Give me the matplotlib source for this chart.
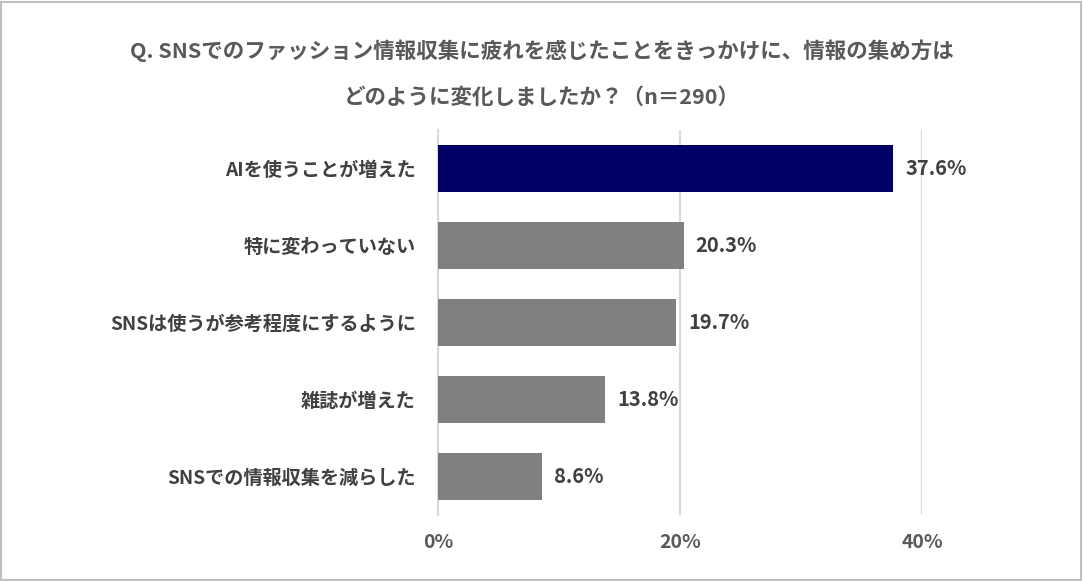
import matplotlib.pyplot as plt
import numpy as np

plt.rcParams['font.family'] = ['Noto Sans CJK JP', 'DejaVu Sans']

# データ
categories = ['AIを使うことが増えた', '特に変わっていない', 'SNSは使うが参考程度にするように',
              '雑誌が増えた', 'SNSでの情報収集を減らした']
values = [37.6, 20.3, 19.7, 13.8, 8.6]
bar_colors = ['#000066', '#808080', '#808080', '#808080', '#808080']
xticks = [0, 20, 40]

title_line1 = 'Q. SNSでのファッション情報収集に疲れを感じたことをきっかけに、情報の集め方は'
title_line2 = 'どのように変化しましたか？（n＝290）'

fig = plt.figure(figsize=(10.83, 5.81), dpi=100)
# 左 438px, 右 922px, 上 130px, 下 515px
ax = fig.add_axes([438 / 1083, 1 - 515 / 581, (922 - 438) / 1083, (515 - 130) / 581])

y = np.arange(len(categories))
ax.barh(y, values, height=0.6, color=bar_colors, zorder=3)

for yi, v in zip(y, values):
    ax.text(v + 1.0, yi, f'{v:.1f}%', va='center', ha='left',
            fontsize=14.5, fontweight='bold', color='#404040', zorder=4)

ax.set_xlim(0, 40)
ax.set_ylim(len(categories) - 0.5, -0.5)
ax.set_yticks(y)
ax.set_yticklabels(categories, fontsize=13.8, fontweight='bold', color='#404040')
ax.set_xticks(xticks)
ax.set_xticklabels([f'{t}%' for t in xticks], fontsize=14, fontweight='bold', color='#595959')
ax.tick_params(axis='y', length=0, pad=16)
ax.tick_params(axis='x', length=0, pad=13)

ax.grid(axis='x', color='#d9d9d9', linewidth=1.5, zorder=0)
for s in ['top', 'right', 'bottom']:
    ax.spines[s].set_visible(False)
ax.spines['left'].set_color('#d9d9d9')
ax.spines['left'].set_linewidth(1.5)

# タイトル（2行）
fig.text(0.5, 1 - 51 / 581, title_line1, ha='center', va='center', fontsize=15.5,
         fontweight='bold', color='#595959')
fig.text(0.5, 1 - 97 / 581, title_line2, ha='center', va='center', fontsize=15.5,
         fontweight='bold', color='#595959')

# 外枠
fig.patches.append(plt.Rectangle((0.001, 0.002), 0.997, 0.995, transform=fig.transFigure,
                                 fill=False, edgecolor='#bfbfbf', linewidth=1.5))

plt.savefig('out.png', dpi=100)
